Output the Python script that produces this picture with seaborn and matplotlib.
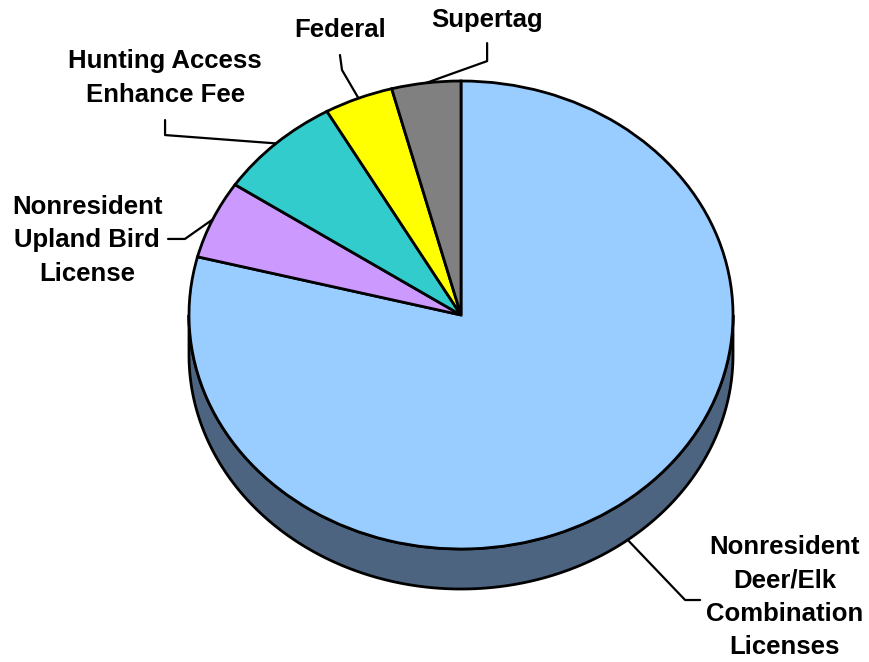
import matplotlib.pyplot as plt
import numpy as np
import seaborn as sns

# %% data (shares, percent)
labels = [
    "Nonresident\nDeer/Elk\nCombination\nLicenses",
    "Nonresident\nUpland Bird\nLicense",
    "Hunting Access\nEnhance Fee",
    "Federal",
    "Supertag",
]
shares = [79.0, 5.4, 7.4, 4.1, 4.1]
colors = ["#99CCFF", "#CC99FF", "#33CCCC", "#FFFF00", "#808080"]
side_color = "#4D6480"

# label layout (data units, pie radius = 1)
label_xy = [(1.19, -1.205), (-1.375, 0.32), (-1.088, 1.013), (-0.445, 1.218), (0.096, 1.261)]
elbows = [
    [(0.879, -1.218), (0.824, -1.218)],
    [(-1.077, 0.325), (-1.015, 0.325)],
    [(-1.088, 0.833), (-1.088, 0.769)],
    [(-0.445, 1.111), (-0.4375, 1.047)],
    [(0.096, 1.162), (0.096, 1.085)],
]

# %% plot
sns.set_style("white")
plt.rcParams["font.family"] = ["Liberation Sans", "DejaVu Sans"]
plt.rcParams["text.color"] = "black"

fig = plt.figure(figsize=(8.7, 6.62), dpi=100)
ax = fig.add_axes([0, 0, 1, 1])

depth = 0.171

wedges, _ = ax.pie(
    shares,
    colors=colors,
    startangle=90,
    counterclock=False,
    radius=1,
    wedgeprops={"edgecolor": "black", "linewidth": 2, "zorder": 3},
)

# 3d side of the pie (front half)
t = np.linspace(np.pi, 2 * np.pi, 200)
side_x = np.concatenate([np.cos(t), np.cos(t[::-1])])
side_y = np.concatenate([np.sin(t), np.sin(t[::-1]) - depth])
ax.fill(side_x, side_y, facecolor=side_color, edgecolor="black", linewidth=2, zorder=1)

# labels with leader lines
for i, w in enumerate(wedges):
    mid = np.deg2rad((w.theta1 + w.theta2) / 2)
    ax_, ay_ = np.cos(mid), np.sin(mid)
    if ay_ < 0:
        ay_ -= depth
    pts = elbows[i] + [(ax_, ay_)]
    ax.plot([p[0] for p in pts], [p[1] for p in pts], color="black", lw=1.6, zorder=4)
    ax.text(label_xy[i][0], label_xy[i][1], labels[i], ha="center", va="center",
            fontsize=18.5, fontweight="bold", linespacing=1.5, color="black", zorder=5)

ax.set_aspect("auto")
ax.set_xlim(-461 / 272, (870 - 461) / 272)
ax.set_ylim(-(662 - 315) / 234, 315 / 234)
ax.axis("off")

fig.savefig("out.png", dpi=100)
